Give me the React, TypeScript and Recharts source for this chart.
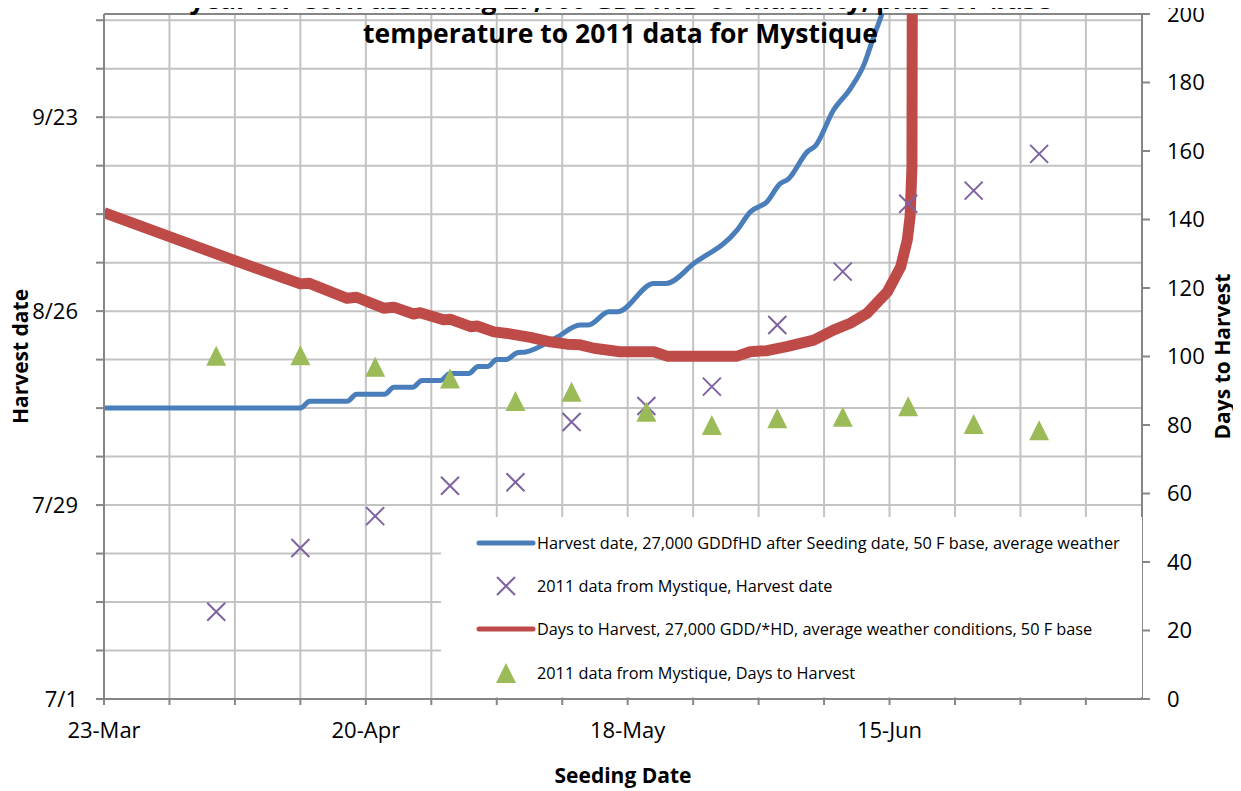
import React from 'react';
import { ComposedChart, Line, Scatter, XAxis, YAxis, CartesianGrid, Legend } from 'recharts';

// x values: days after 23-Mar (seeding); left axis: days after 7/1 (harvest date); right axis: days to harvest
const xTickDays = [0, 28, 56, 84];
const xTickLabels = ['23-Mar', '20-Apr', '18-May', '15-Jun'];
const leftTickDays = [0, 28, 56, 84];
const leftTickLabels = ['7/1', '7/29', '8/26', '9/23'];
const rightTicks = [0, 20, 40, 60, 80, 100, 120, 140, 160, 180, 200];

const harvestLineSeed = [0, 21, 22, 26, 27, 30, 31, 33, 34, 36, 37, 39, 40, 41, 42, 43, 44.2, 45.1, 48.4, 50.9, 51.8, 54, 54.9, 58.8, 60.1, 63.1, 67.7, 69.1, 70.9, 72.3, 73.2, 75.2, 76.1, 78, 79.8, 81.3, 82.3, 83.2, 84.5];
const harvestLineDate = [42, 42, 43, 43, 44, 44, 45, 45, 46, 46, 47, 47, 48, 48, 49, 49, 50, 50.1, 52.2, 54, 54, 55.9, 55.9, 60, 60, 62.9, 67.7, 70.3, 71.8, 74.4, 75.1, 79, 79.9, 85, 88.1, 91.7, 95.6, 98.9, 104];

const daysLineSeed = [0, 7, 14, 21, 21.9, 26, 27, 29.9, 31, 33.1, 33.8, 36.3, 37, 39.2, 39.9, 41.7, 43.4, 45.6, 47.7, 49.5, 50.9, 52.4, 55.2, 58.8, 60.2, 67.7, 69.1, 70.9, 73, 75.9, 78, 79.8, 81.6, 83.8, 85.2, 85.9, 86.2, 86.4, 86.45];
const daysLineValue = [142, 135, 128, 121.2, 121.4, 117, 117.3, 114.1, 114.4, 112.4, 112.8, 110.7, 110.9, 108.7, 108.9, 107.2, 106.6, 105.6, 104.3, 103.6, 103.4, 102.4, 101.4, 101.4, 100.1, 100.1, 101.4, 101.7, 102.9, 104.8, 107.7, 109.7, 112.6, 119, 126.2, 134, 140.8, 155.4, 230];

const mystiqueSeed = [12, 21, 29, 37, 44, 50, 58, 65, 72, 79, 86, 93, 100];
const mystiqueHarvest = [12.6, 21.8, 26.4, 30.8, 31.3, 40.0, 42.3, 45.1, 54.0, 61.7, 71.5, 73.4, 78.7];
const mystiqueDays = [100.2, 100.4, 97.0, 93.6, 87.0, 89.7, 83.9, 80.0, 82.0, 82.4, 85.5, 80.3, 78.5];

const BLUE = '#4a7ebb';
const RED = '#be4b48';
const PURPLE = '#7f63a1';
const GREEN = '#9bbb59';
const AXIS = '#868686';
const FONT = '"Open Sans", sans-serif';

const weekTicks = Array.from({ length: 16 }, (_, i) => i * 7);
const leftWeekTicks = Array.from({ length: 15 }, (_, i) => i * 7);

const harvestLine = harvestLineSeed.map((x, i) => ({ x, y: harvestLineDate[i] }));
const daysLine = daysLineSeed.map((x, i) => ({ x, y: daysLineValue[i] }));
const mystiqueHarvestPts = mystiqueSeed.map((x, i) => ({ x, y: mystiqueHarvest[i] }));
const mystiqueDaysPts = mystiqueSeed.map((x, i) => ({ x, y: mystiqueDays[i] }));

const XMark = (props: any) => {
  const { cx, cy } = props;
  return (
    <path
      d={`M${cx - 9},${cy - 9}L${cx + 9},${cy + 9}M${cx - 9},${cy + 9}L${cx + 9},${cy - 9}`}
      stroke={PURPLE}
      strokeWidth={2}
      fill="none"
    />
  );
};

const TriMark = (props: any) => {
  const { cx, cy } = props;
  return <path d={`M${cx},${cy - 10}L${cx + 10},${cy + 10}L${cx - 10},${cy + 10}Z`} fill={GREEN} />;
};

const legendItems = [
  { label: 'Harvest date, 27,000 GDDfHD after Seeding date, 50 F base, average weather', kind: 'line', color: BLUE },
  { label: '2011 data from Mystique, Harvest date', kind: 'x', color: PURPLE },
  { label: 'Days to Harvest, 27,000 GDD/*HD, average weather conditions, 50 F base', kind: 'line', color: RED },
  { label: '2011 data from Mystique, Days to Harvest', kind: 'tri', color: GREEN },
];

const ChartLegend = () => (
  <div style={{ background: '#fff', width: '100%', height: '100%', paddingTop: 4, boxSizing: 'border-box' }}>
    {legendItems.map((item) => (
      <div key={item.label} style={{ display: 'flex', alignItems: 'center', height: 43.3, paddingLeft: 35 }}>
        <svg width={60} height={24} style={{ flex: 'none' }}>
          {item.kind === 'line' && (
            <line x1={3} y1={12} x2={57} y2={12} stroke={item.color} strokeWidth={5} strokeLinecap="round" />
          )}
          {item.kind === 'x' && <XMark cx={30} cy={12} />}
          {item.kind === 'tri' && <TriMark cx={30} cy={12} />}
        </svg>
        <span style={{ fontSize: 16.3, color: '#000', whiteSpace: 'nowrap', marginLeft: 1 }}>{item.label}</span>
      </div>
    ))}
  </div>
);

const tickStyle = { fill: '#000', fontSize: 22, fontFamily: FONT };
const titleStyle = { fill: '#000', fontSize: 21, fontWeight: 700, fontFamily: FONT };

export default function App() {
  return (
    <div style={{ position: 'relative', width: 1241, height: 791, margin: '-8px 0 0 -8px', fontFamily: FONT }}>
      <ComposedChart width={1241} height={791} margin={{ top: 14, right: 0, bottom: 0, left: 0 }}>
        <XAxis
          dataKey="x"
          type="number"
          domain={[0, 111]}
          ticks={weekTicks}
          interval={0}
          allowDataOverflow
          height={92}
          stroke={AXIS}
          strokeWidth={2}
          tickSize={6}
          tickMargin={17}
          tick={tickStyle}
          tickFormatter={(v: number) => {
            const i = xTickDays.indexOf(v);
            return i >= 0 ? xTickLabels[i] : '';
          }}
          label={{ value: 'Seeding Date', position: 'insideBottom', offset: 8, style: titleStyle }}
        />
        <XAxis xAxisId="major" dataKey="x" type="number" domain={[0, 111]} ticks={xTickDays.slice(1)} hide />
        <YAxis
          yAxisId="left"
          type="number"
          domain={[0, 98.9]}
          ticks={leftWeekTicks}
          interval={0}
          allowDataOverflow
          width={104}
          stroke={AXIS}
          strokeWidth={2}
          tickSize={8}
          tickMargin={18}
          tick={tickStyle}
          tickFormatter={(v: number) => {
            const i = leftTickDays.indexOf(v);
            return i >= 0 ? leftTickLabels[i] : '';
          }}
          label={{ value: 'Harvest date', angle: -90, position: 'insideLeft', offset: 21, style: { ...titleStyle, textAnchor: 'middle' } }}
        />
        <YAxis yAxisId="major" type="number" domain={[0, 98.9]} ticks={leftTickDays.slice(1)} hide />
        <YAxis
          yAxisId="right"
          orientation="right"
          type="number"
          domain={[0, 200]}
          ticks={rightTicks}
          interval={0}
          allowDataOverflow
          width={99}
          stroke={AXIS}
          strokeWidth={2}
          tickSize={8}
          tickMargin={17}
          tick={tickStyle}
          label={{ value: 'Days to Harvest', angle: -90, position: 'insideRight', offset: 18, style: { ...titleStyle, textAnchor: 'middle' } }}
        />
        <CartesianGrid yAxisId="left" stroke="#c3c3c3" strokeWidth={2} />
        <CartesianGrid xAxisId="major" yAxisId="major" stroke={AXIS} strokeWidth={2} />
        <Line
          data={harvestLine}
          dataKey="y"
          yAxisId="left"
          type="monotone"
          stroke={BLUE}
          strokeWidth={5}
          dot={false}
          isAnimationActive={false}
          name="Harvest date, 27,000 GDDfHD after Seeding date, 50 F base, average weather"
        />
        <Scatter
          data={mystiqueHarvestPts}
          dataKey="y"
          yAxisId="left"
          shape={XMark}
          isAnimationActive={false}
          name="2011 data from Mystique, Harvest date"
        />
        <Line
          data={daysLine}
          dataKey="y"
          yAxisId="right"
          type="linear"
          stroke={RED}
          strokeWidth={11}
          strokeLinejoin="round"
          dot={false}
          isAnimationActive={false}
          name="Days to Harvest, 27,000 GDD/*HD, average weather conditions, 50 F base"
        />
        <Scatter
          data={mystiqueDaysPts}
          dataKey="y"
          yAxisId="right"
          shape={TriMark}
          isAnimationActive={false}
          name="2011 data from Mystique, Days to Harvest"
        />
        <Legend
          layout="vertical"
          align="center"
          verticalAlign="middle"
          content={ChartLegend}
          wrapperStyle={{ position: 'absolute', left: 441, top: 517, width: 701, height: 180 }}
        />
      </ComposedChart>
      <div
        style={{
          position: 'absolute',
          top: -18,
          left: 0,
          width: 1241,
          textAlign: 'center',
          fontSize: 26.5,
          fontWeight: 700,
          lineHeight: '34px',
          color: '#000',
          pointerEvents: 'none',
        }}
      >
        <div>year for Corn assuming 27,000 GDDfHD to maturity, plus 50F base</div>
        <div>temperature to 2011 data for Mystique</div>
      </div>
    </div>
  );
}
